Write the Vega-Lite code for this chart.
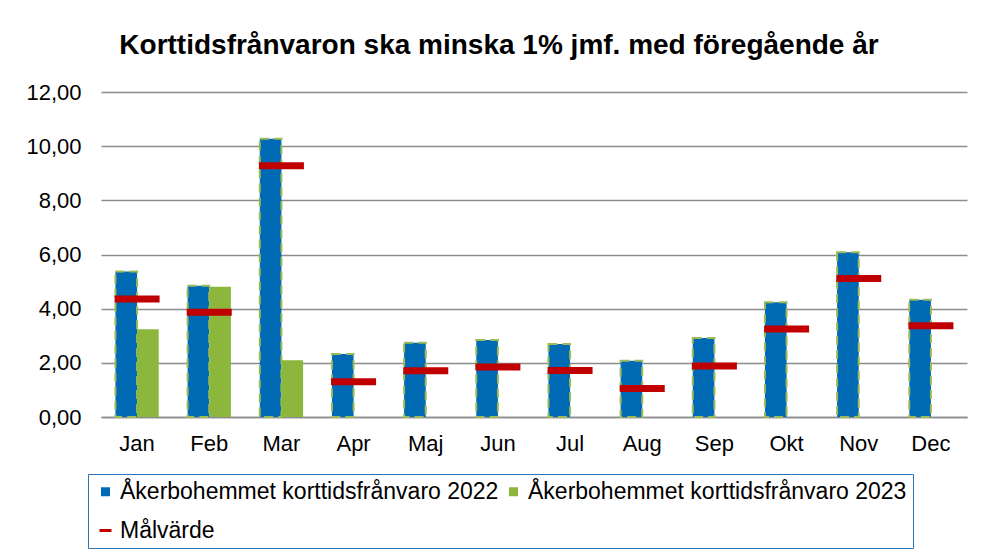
{
  "$schema": "https://vega.github.io/schema/vega-lite/v6.json",
  "autosize": "none",
  "width": 866,
  "height": 325,
  "padding": {"left": 101, "top": 92, "right": 15, "bottom": 139},
  "background": "white",
  "title": {
    "text": "Korttidsfrånvaron ska minska 1% jmf. med föregående år",
    "font": "Liberation Sans",
    "fontSize": 28,
    "fontWeight": "bold",
    "color": "black",
    "anchor": "middle",
    "frame": "group",
    "dx": -35,
    "offset": 21
  },
  "config": {"view": {"stroke": null}, "font": "Liberation Sans"},
  "datasets": {
    "bars": [
      {"month": "Jan", "series": "Åkerbohemmet korttidsfrånvaro 2022", "value": 5.37},
      {"month": "Jan", "series": "Åkerbohemmet korttidsfrånvaro 2023", "value": 3.24},
      {"month": "Feb", "series": "Åkerbohemmet korttidsfrånvaro 2022", "value": 4.85},
      {"month": "Feb", "series": "Åkerbohemmet korttidsfrånvaro 2023", "value": 4.81},
      {"month": "Mar", "series": "Åkerbohemmet korttidsfrånvaro 2022", "value": 10.27},
      {"month": "Mar", "series": "Åkerbohemmet korttidsfrånvaro 2023", "value": 2.10},
      {"month": "Apr", "series": "Åkerbohemmet korttidsfrånvaro 2022", "value": 2.33},
      {"month": "Maj", "series": "Åkerbohemmet korttidsfrånvaro 2022", "value": 2.74},
      {"month": "Jun", "series": "Åkerbohemmet korttidsfrånvaro 2022", "value": 2.84},
      {"month": "Jul", "series": "Åkerbohemmet korttidsfrånvaro 2022", "value": 2.70},
      {"month": "Aug", "series": "Åkerbohemmet korttidsfrånvaro 2022", "value": 2.08},
      {"month": "Sep", "series": "Åkerbohemmet korttidsfrånvaro 2022", "value": 2.92},
      {"month": "Okt", "series": "Åkerbohemmet korttidsfrånvaro 2022", "value": 4.24},
      {"month": "Nov", "series": "Åkerbohemmet korttidsfrånvaro 2022", "value": 6.08},
      {"month": "Dec", "series": "Åkerbohemmet korttidsfrånvaro 2022", "value": 4.33}
    ],
    "targets": [
      {"month": "Jan", "target": 4.36},
      {"month": "Feb", "target": 3.87},
      {"month": "Mar", "target": 9.28},
      {"month": "Apr", "target": 1.30},
      {"month": "Maj", "target": 1.71},
      {"month": "Jun", "target": 1.85},
      {"month": "Jul", "target": 1.72},
      {"month": "Aug", "target": 1.05},
      {"month": "Sep", "target": 1.88},
      {"month": "Okt", "target": 3.25},
      {"month": "Nov", "target": 5.11},
      {"month": "Dec", "target": 3.37}
    ]
  },
  "layer": [
    {
      "data": {"name": "bars"},
      "mark": {"type": "bar", "strokeWidth": 2, "strokeDash": [9, 5]},
      "encoding": {
        "x": {
          "field": "month",
          "type": "nominal",
          "sort": ["Jan", "Feb", "Mar", "Apr", "Maj", "Jun", "Jul", "Aug", "Sep", "Okt", "Nov", "Dec"],
          "scale": {"paddingInner": 0.4, "paddingOuter": 0.2},
          "title": null,
          "axis": {
            "labelAngle": 0,
            "labelFont": "Liberation Sans",
            "labelFontSize": 22,
            "labelColor": "black",
            "ticks": false,
            "domainColor": "#8c8c8c",
            "domainWidth": 1.5,
            "labelPadding": 16
          }
        },
        "xOffset": {
          "field": "series",
          "type": "nominal",
          "scale": {"domain": ["Åkerbohemmet korttidsfrånvaro 2022", "Åkerbohemmet korttidsfrånvaro 2023"], "paddingInner": 0, "paddingOuter": 0}
        },
        "y": {
          "field": "value",
          "type": "quantitative",
          "scale": {"domain": [0, 12]},
          "title": null,
          "axis": {
            "values": [0, 2, 4, 6, 8, 10, 12],
            "labelExpr": "replace(format(datum.value, '.2f'), '.', ',')",
            "labelFont": "Liberation Sans",
            "labelFontSize": 22,
            "labelColor": "black",
            "ticks": false,
            "domain": false,
            "gridColor": "#8c8c8c",
            "gridWidth": 1.5,
            "labelPadding": 20
          }
        },
        "color": {
          "field": "series",
          "type": "nominal",
          "scale": {
            "domain": ["Åkerbohemmet korttidsfrånvaro 2022", "Åkerbohemmet korttidsfrånvaro 2023"],
            "range": ["#006AB4", "#8DB63C"]
          },
          "legend": {
            "orient": "none",
            "legendX": -13,
            "legendY": 382,
            "columns": 2,
            "title": " ",
            "titleOrient": "bottom",
            "titleFontSize": 23,
            "titlePadding": 15,
            "labelFont": "Liberation Sans",
            "labelFontSize": 23,
            "labelColor": "black",
            "labelLimit": 600,
            "symbolType": "square",
            "symbolSize": 81,
            "symbolOpacity": 1,
            "symbolStrokeWidth": 0,
            "strokeColor": "#2E75B6",
            "padding": 6,
            "columnPadding": 3,
            "labelOffset": 3,
            "encode": {"legend": {"strokeWidth": {"value": 2}}}
          }
        },
        "stroke": {
          "condition": {"test": "datum.series === 'Åkerbohemmet korttidsfrånvaro 2022'", "value": "#9BBB59"},
          "value": null
        }
      }
    },
    {
      "data": {"name": "targets"},
      "mark": {"type": "tick", "thickness": 7, "size": 45, "opacity": 1},
      "encoding": {
        "x": {
          "field": "month",
          "type": "nominal",
          "sort": ["Jan", "Feb", "Mar", "Apr", "Maj", "Jun", "Jul", "Aug", "Sep", "Okt", "Nov", "Dec"]
        },
        "y": {"field": "target", "type": "quantitative"},
        "fill": {
          "datum": "Målvärde",
          "scale": {"domain": ["Målvärde"], "range": ["#C00000"]},
          "legend": {
            "orient": "none",
            "legendX": -7,
            "legendY": 427,
            "title": null,
            "padding": 0,
            "labelFont": "Liberation Sans",
            "labelFontSize": 23,
            "labelColor": "black",
            "labelLimit": 600,
            "labelOffset": 3,
            "symbolType": "stroke",
            "symbolSize": 144,
            "symbolStrokeColor": "#C00000",
            "symbolStrokeWidth": 3,
            "symbolOpacity": 1
          }
        }
      }
    }
  ]
}
